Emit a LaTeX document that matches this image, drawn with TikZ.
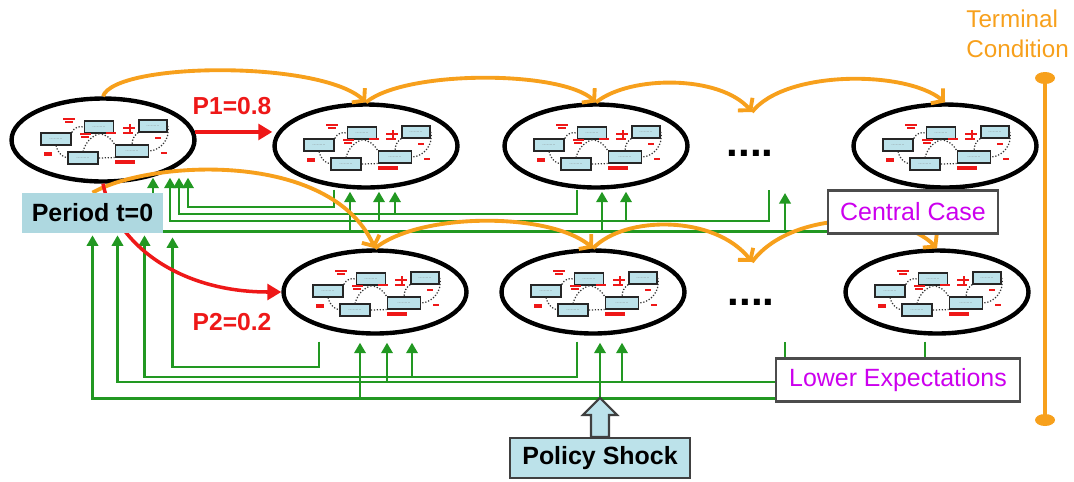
\documentclass[tikz,border=0pt]{standalone}
\usepackage{fontspec}
\setmainfont{Liberation Sans}
\usepackage{tikz}
\usetikzlibrary{shapes.geometric, arrows.meta, calc, positioning}
\pgfdeclarelayer{front}
\pgfsetlayers{main,front}
\definecolor{orangearc}{RGB}{247,160,28}
\definecolor{greenfb}{RGB}{34,152,34}
\definecolor{redprob}{RGB}{238,24,24}
\definecolor{magtext}{RGB}{204,0,238}
\definecolor{tagcyan}{RGB}{174,216,224}
\definecolor{boxcyan}{RGB}{188,226,234}
\tikzset{
stage/.style={ellipse, draw, line width=2.5pt, fill=white, minimum width=3.66cm, minimum height=1.66cm, inner sep=0pt}, % one period of the model
minibox/.style={draw=black!85, line width=0.9pt, fill=boxcyan, inner sep=0pt, minimum height=0.23cm},
minilink/.style={black!80, line width=0.7pt, densely dotted},
minired/.style={redprob, line width=1.1pt},
fb/.style={greenfb, line width=1.4pt, -{Triangle[length=6pt,width=6.5pt]}}, % expectations fed back
fbline/.style={greenfb, line width=1.4pt},
hop/.style={orangearc, line width=2.2pt, -{Straight Barb[length=4.5pt,width=11pt]}}, % next period
branch/.style={redprob, line width=2pt, -{Triangle[length=8pt,width=9pt]}},
prob/.style={text=redprob, font=\bfseries\fontsize{14}{16}\selectfont},
tagbox/.style={fill=tagcyan, font=\bfseries\fontsize{14.2}{17}\selectfont, minimum height=0.8cm, inner sep=0pt},
shockbox/.style={draw=black!75, line width=1.2pt, fill=boxcyan, font=\bfseries\fontsize{14.2}{17}\selectfont, minimum height=0.8cm, inner sep=0pt},
casebox/.style={draw=black!70, line width=1.2pt, fill=white, text=magtext, font=\fontsize{14.2}{17}\selectfont, minimum height=0.86cm, inner sep=0pt},
dotrow/.style={font=\bfseries\fontsize{24}{24}\selectfont, inner sep=0pt},
tdot/.style={ellipse, fill=orangearc, minimum width=0.4cm, minimum height=0.24cm, inner sep=0pt},
}
\newcommand{\minitext}{\fontsize{3}{3}\selectfont\color{black!50}.........}
\newcommand{\minimodel}[1]{%
\begin{scope}[shift={(#1.center)}]
  \node[minibox, minimum width=0.58cm] (#1-a) at (-4,-13) {\minitext};
  \node[minibox, minimum width=0.56cm] (#1-b) at (50,-14) {\minitext};
  \node[minibox, minimum width=0.60cm] (#1-c) at (-47,-1) {\minitext};
  \node[minibox, minimum width=0.60cm] (#1-d) at (-20,18) {\minitext};
  \node[minibox, minimum width=0.66cm] (#1-e) at (29,11) {\minitext};
  \draw[minilink] (#1-c.north east) to[bend left=40] (#1-a.west);
  \draw[minilink] (#1-a.south) to[bend right=25] (#1-d.north);
  \draw[minilink] (#1-a.south) to[bend left=25] (#1-e.north west);
  \draw[minilink] (#1-b.south west) to[bend right=25] (#1-e.north);
  \draw[minilink] (#1-b.east) to[bend left=50] (#1-e.east);
  \draw[minilink] (#1-c.south) to[bend right=30] (#1-d.west);
  \draw[minilink] (#1-d.east) -- (#1-e.south west);
  \draw[minired] (-40,-21) -- (-28,-21) (-38,-18) -- (-30,-18);
  \draw[minired] (-23,-6) -- (-12,-6) (-22,-3) -- (-14,-3);
  \draw[minired] (3,-7) -- (13,-7);
  \draw[minired] (20,-12) -- (32,-12) (20,-7) -- (30,-7) (27,-16) -- (27,-7);
  \draw[minired] (52,-2) -- (58,-2) (58,13) -- (64,13);
  \draw[minired, line width=2pt] (-59,14) -- (-51,14) (12,22) -- (32,22);
\end{scope}}

\begin{document}
\begin{tikzpicture}[x=0.02cm, y=-0.02cm]
\useasboundingbox (0,0) rectangle (1074,481);

% periods of the model
\node[stage] (E0) at (103,140) {};
\node[stage] (E1) at (366,146) {};
\node[stage] (E2) at (596,146) {};
\node[stage] (E3) at (945,146) {};
\node[stage] (B1) at (375,292) {};
\node[stage] (B2) at (593,292) {};
\node[stage] (B3) at (937,292) {};
\foreach \e in {E0,E1,E2,E3,B1,B2,B3} {\minimodel{\e}}
\node[dotrow] (dotsT) at (750,153) {....};
\node[dotrow] (dotsB) at (751,302) {....};

% boxes on top of the lines
\begin{pgfonlayer}{front}
\node[tagbox, minimum width=2.82cm] (period) at (92.5,213) {Period t=0};
\node[shockbox, minimum width=3.6cm] (shock) at (600,458) {Policy Shock};
\node[casebox, minimum width=3.4cm] (central) at (913,212) {Central Case};
\node[casebox, minimum width=4.88cm] (lower) at (898,380) {Lower Expectations};
\end{pgfonlayer}

\node[prob] (p1) at (232,106) {P1=0.8};
\node[prob] (p2) at (232,322) {P2=0.2};
\node[text=orangearc, font=\fontsize{13.8}{17}\selectfont, align=left, anchor=north west, inner sep=0pt] (term) at (966,10) {Terminal\\Condition};
\node[tdot] (tcTop) at (1045,78) {};
\node[tdot] (tcBot) at (1045,420) {};
\draw[orangearc, line width=2pt] (tcTop) -- (tcBot);

% ends of the green lines
\coordinate (e0inD) at ($(E0.south)+(50,-6)$);
\coordinate (e0inC) at ($(E0.south)+(67,-6)$);
\coordinate (e0inB) at ($(E0.south)+(76,-6)$);
\coordinate (e0inA) at ($(E0.south)+(85,-6)$);
\coordinate (e1inD) at ($(E1.south)+(-16,2)$);
\coordinate (e1inC) at ($(E1.south)+(13,2)$);
\coordinate (e1inB) at ($(E1.south)+(29,2)$);
\coordinate (e2inD) at ($(E2.south)+(6,2)$);
\coordinate (e2inC) at ($(E2.south)+(30,2)$);
\coordinate (dotsTin) at (785,193);
\coordinate (e1out) at ($(E1.south)+(-32,0)$);
\coordinate (e2out) at ($(E2.south)+(-19,0)$);
\coordinate (dotsTout) at (769,190);
\coordinate (lvA) at (0,207);
\coordinate (lvB) at (0,214);
\coordinate (lvC) at (0,221);
\coordinate (lvD) at ($(central.south west)+(0,-3)$);

\coordinate (pa) at ($(period.south)+(80,4)$);
\coordinate (pb) at ($(period.south)+(52,2)$);
\coordinate (pc) at ($(period.south)+(25,2)$);
\coordinate (pd) at ($(period.south)+(0,2)$);
\coordinate (b1inb) at ($(B1.south)+(37,7)$);
\coordinate (b1inc) at ($(B1.south)+(12,7)$);
\coordinate (b1ind) at ($(B1.south)+(-15,7)$);
\coordinate (b2inc) at ($(B2.south)+(29,7)$);
\coordinate (b2ind) at ($(B2.south)+(7,7)$);
\coordinate (b1out) at ($(B1.south)+(-56,6)$);
\coordinate (b2out) at ($(B2.south)+(-16,6)$);
\coordinate (b3out) at ($(B3.south)+(-12,6)$);
\coordinate (dotsBout) at (785,342);
\coordinate (lva) at (0,367);
\coordinate (lvb) at (0,377);
\coordinate (lvc) at ($(lower.west)+(0,2)$);
\coordinate (lvd) at ($(lower.south west)+(0,-4)$);

% central case feedback
\draw[fb] (e1out) |- (lvA -| e0inA) -- (e0inA);
\draw[fb] (e2out) |- (lvB -| e0inB) -- (e0inB);
\draw[fb] (lvB -| e1inB) -- (e1inB);
\draw[fb] (dotsTout) |- (lvC -| e0inC) -- (e0inC);
\draw[fb] (lvC -| e1inC) -- (e1inC);
\draw[fb] (lvC -| e2inC) -- (e2inC);
\draw[fb] (lvD) -- (lvD -| e0inD) -- (e0inD);
\draw[fb] (lvD -| e1inD) -- (e1inD);
\draw[fb] (lvD -| e2inD) -- (e2inD);
\draw[fb] (lvD -| dotsTin) -- (dotsTin);

% lower expectations feedback
\draw[fb] (b1out) |- (lva -| pa) -- (pa);
\draw[fb] (b2out) |- (lvb -| pb) -- (pb);
\draw[fb] (lvb -| b1inb) -- (b1inb);
\draw[fb] (lvc) -- (lvc -| pc) -- (pc);
\draw[fb] (lvc -| b1inc) -- (b1inc);
\draw[fb] (lvc -| b2inc) -- (b2inc);
\draw[fb] (lvd) -- (lvd -| pd) -- (pd);
\draw[fb] (lvd -| b1ind) -- (b1ind);
\draw[fb] (lvd -| b2ind) -- (b2ind);
\draw[fbline] (dotsBout) -- (dotsBout |- lower.north);
\draw[fbline] (b3out) -- (b3out |- lower.north);

% moving forward in time
\coordinate (dipT) at (752,112);
\coordinate (dipB) at (752,262);
\draw[hop] (E0.north) .. controls (115,62) and (320,60) .. (E1.north);
\draw[hop] (E1.north) .. controls (405,70) and (560,70) .. (E2.north);
\draw[hop] (E2.north) .. controls (630,75) and (720,75) .. (dipT);
\draw[hop] (dipT) .. controls (785,70) and (905,70) .. (E3.north);
\draw[hop] (period.north) .. controls (150,160) and (330,150) .. (B1.north);
\draw[hop] (B1.north) .. controls (420,212) and (550,212) .. (B2.north);
\draw[hop] (B2.north) .. controls (625,215) and (715,215) .. (dipB);
\draw[hop] (dipB) .. controls (790,210) and (900,210) .. (B3.north);

% the two branches
\draw[branch] (E0.5) -- (E0.5 -| E1.west);
\draw[branch] (E0.south) .. controls (115,245) and (180,292) .. (B1.west);

\filldraw[draw=black!75, line width=1.2pt, fill=boxcyan] ($(shock.north)+(-9,0)$) -- ++(0,-22) -- ++(-8,0) -- ++(17,-17) -- ++(17,17) -- ++(-8,0) -- ++(0,22) -- cycle;

\end{tikzpicture}
\end{document}
